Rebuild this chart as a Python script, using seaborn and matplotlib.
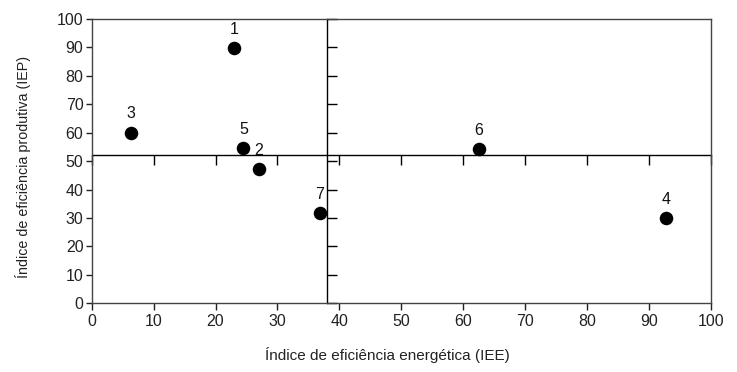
import matplotlib
matplotlib.use("Agg")
import matplotlib.pyplot as plt
import seaborn as sns
import pandas as pd

# Data
labels = ["1", "2", "3", "4", "5", "6", "7"]
iee = [23.0, 27.0, 6.4, 92.8, 24.5, 62.5, 36.8]
iep = [89.7, 47.3, 60.0, 30.0, 54.7, 54.1, 31.6]
x_ticks = [0, 10, 20, 30, 40, 50, 60, 70, 80, 90, 100]
y_ticks = [0, 10, 20, 30, 40, 50, 60, 70, 80, 90, 100]
x_split = 38
y_split = 52
x_label = "Índice de eficiência energética (IEE)"
y_label = "Índice de eficiência produtiva (IEP)"

df = pd.DataFrame({"label": labels, "IEE": iee, "IEP": iep})

sns.set_theme(style="white")
plt.rcParams["font.family"] = ["Liberation Sans", "DejaVu Sans"]

fig = plt.figure(figsize=(7.37, 3.72), dpi=100)
ax = fig.add_axes([0.1245, 0.1847, 0.8398, 0.7643])

sns.scatterplot(data=df, x="IEE", y="IEP", ax=ax, color="black", s=95,
                edgecolor="black", linewidth=0, zorder=5, legend=False)

for _, r in df.iterrows():
    ax.annotate(r["label"], (r["IEE"], r["IEP"]), xytext=(0, 13.5),
                textcoords="offset points", ha="center", va="center",
                fontsize=11.5, color="#111111")

ax.set_xlim(0, 100)
ax.set_ylim(0, 100)
ax.set_xticks(x_ticks)
ax.set_yticks(y_ticks)
ax.tick_params(axis="both", direction="out", length=4, width=1, colors="#222222",
               labelsize=11.5, pad=2, left=True, bottom=True)
ax.tick_params(axis="x", length=5, pad=3)
for sp in ax.spines.values():
    sp.set_color("#444444")
    sp.set_linewidth(1)
ax.set_xlabel(x_label, fontsize=11, color="#222222", va="center")
ax.set_ylabel(y_label, fontsize=10.3, color="#222222", va="center")
ax.xaxis.set_label_coords(0.478, -0.182)
ax.yaxis.set_label_coords(-0.1115, 0.478)

# Quadrant dividing lines with inward ticks
sx = ax.secondary_xaxis(y_split / 100)
sx.set_xticks(x_ticks)
sx.tick_params(axis="x", direction="in", length=7, width=1, colors="black",
               labeltop=False, labelbottom=False)
for sp in sx.spines.values():
    sp.set_color("black")
    sp.set_linewidth(1)

sy = ax.secondary_yaxis(x_split / 100)
sy.set_yticks(y_ticks)
sy.tick_params(axis="y", direction="in", length=7, width=1, colors="black",
               labelleft=False, labelright=False)
for sp in sy.spines.values():
    sp.set_color("black")
    sp.set_linewidth(1)

fig.savefig("out.png", dpi=100)
